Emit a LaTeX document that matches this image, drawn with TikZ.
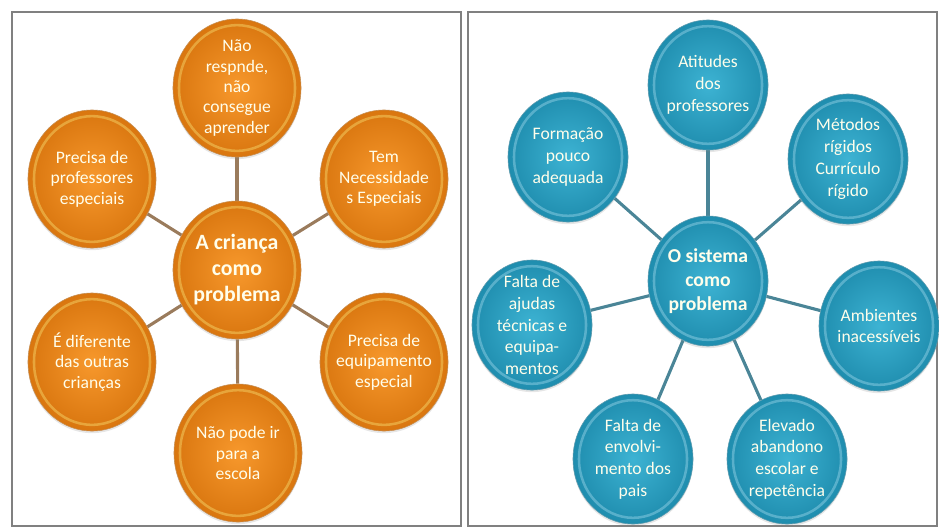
\documentclass[tikz,border=0pt]{standalone}
\usepackage{fontspec}
\setmainfont{Carlito}
\usetikzlibrary{shapes.geometric,backgrounds,shadows}
\definecolor{kid}{HTML}{F7982C}
\definecolor{kiddark}{HTML}{D9760F}
\definecolor{kidline}{HTML}{9A7B5C}
\definecolor{sys}{HTML}{3DB3D3}
\definecolor{sysdark}{HTML}{1F8DAE}
\definecolor{sysline}{HTML}{4A8597}
\definecolor{frame}{HTML}{808080}

\begin{document}
\begin{tikzpicture}[x=0.025cm, y=-0.025cm,
  ball/.style={ellipse, inner sep=-8pt, align=center, text=white!92!yellow,
    font=\fontsize{12.5}{14.5}\selectfont,
    drop shadow={opacity=.2, shadow xshift=0pt, shadow yshift=-1.5pt}},
  kidball/.style={ball, minimum width=3.2cm, minimum height=3.45cm,
    inner color=kid, outer color=kiddark, draw=kiddark!80!black!70, thin,
    path picture={\draw[yellow!45!white, opacity=.35, line width=1.8pt]
      (path picture bounding box.center) ellipse [x radius=1.45cm, y radius=1.57cm];}},
  sysball/.style={ball, minimum width=3.0cm, minimum height=3.25cm,
    font=\fontsize{12.5}{15.5}\selectfont,
    inner color=sys, outer color=sysdark, draw=sysdark!80!black!70, thin,
    path picture={\draw[cyan!25!white, opacity=.35, line width=1.8pt]
      (path picture bounding box.center) ellipse [x radius=1.35cm, y radius=1.47cm];}},
  hub/.style={font=\fontsize{15.5}{18.5}\selectfont\bfseries},
  kidlink/.style={draw=kidline, line width=2.2pt},
  syslink/.style={draw=sysline, line width=2.2pt},
  panel/.style={draw=frame, line width=1.2pt}]
\useasboundingbox (0,0) rectangle (939,528);
\draw[panel] (12,12) rectangle (461,526);
\draw[panel] (468,12) rectangle (937,526);

\node[kidball, hub] (kid) at (237,270) {A criança\\como\\problema};
\node[kidball] (k1) at (237,88) {Não\\respnde,\\não\\consegue\\aprender};
\node[kidball] (k2) at (384,179) {Tem\\Necessidade\\s Especiais};
\node[kidball] (k3) at (384,362) {Precisa de\\equipamento\\especial};
\node[kidball] (k4) at (238,453) {Não pode ir\\para a\\escola};
\node[kidball] (k5) at (92,362) {É diferente\\das outras\\crianças};
\node[kidball] (k6) at (92,179) {Precisa de\\professores\\especiais};

\node[sysball, hub, font=\fontsize{14}{17}\selectfont\bfseries] (sys) at (708,281) {O sistema\\como\\problema};
\node[sysball] (s1) at (708,85) {Atitudes\\dos\\professores};
\node[sysball] (s2) at (848,159) {Métodos\\rígidos\\Currículo\\rígido};
\node[sysball] (s3) at (879,326) {Ambientes\\inacessíveis};
\node[sysball] (s4) at (787,459) {Elevado\\abandono\\escolar e\\repetência};
\node[sysball] (s5) at (633,459) {Falta de\\envolvi-\\mento dos\\pais};
\node[sysball] (s6) at (532,325) {Falta de\\ajudas\\técnicas e\\equipa-\\mentos};
\node[sysball] (s7) at (568,157) {Formação\\pouco\\adequada};

\begin{scope}[on background layer]
\foreach \n in {1,...,6} \draw[kidlink] (kid) -- (k\n);
\foreach \n in {1,...,7} \draw[syslink] (sys) -- (s\n);
\end{scope}
\end{tikzpicture}
\end{document}
